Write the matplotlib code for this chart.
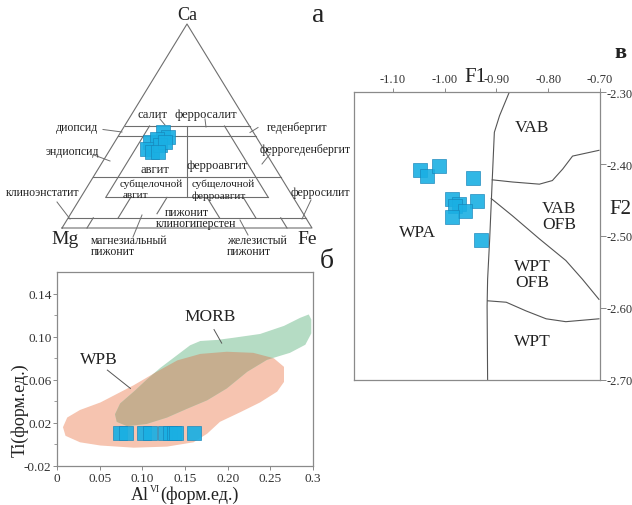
import matplotlib
matplotlib.use('Agg')
import matplotlib.pyplot as plt
import numpy as np
from matplotlib.patches import Polygon

W, H = 632, 506

plt.rcParams['font.family'] = ['Liberation Serif', 'DejaVu Serif']
plt.rcParams['axes.unicode_minus'] = False

# --- data ---

# (a) pyroxene compositions, mol %
px_wo = [47.1, 44.6, 42.2, 43.8, 38.9, 37.3, 40.5, 42.2, 37.2]
px_fs = [17.0, 20.2, 14.1, 16.0, 14.4, 17.2, 18.9, 20.1, 19.6]

# (в) F1 - F2 discriminant scores
f1 = [-1.047, -1.034, -1.010, -0.946, -0.986, -0.973, -0.980, -0.937, -0.960, -0.985, -0.929]
f2 = [-2.409, -2.416, -2.403, -2.420, -2.448, -2.456, -2.458, -2.451, -2.465, -2.474, -2.506]

# field boundaries of (в)
b_main_x = [-0.875, -0.894, -0.904, -0.908, -0.913, -0.917, -0.918, -0.917]
b_main_y = [-2.300, -2.333, -2.356, -2.421, -2.504, -2.560, -2.597, -2.700]
b_vab_x = [-0.908, -0.869, -0.817, -0.792, -0.772, -0.753, -0.702]
b_vab_y = [-2.422, -2.425, -2.428, -2.423, -2.407, -2.389, -2.381]
b_ofb_x = [-0.910, -0.869, -0.817, -0.766, -0.734, -0.702]
b_ofb_y = [-2.448, -2.472, -2.504, -2.534, -2.560, -2.588]
b_wpt_x = [-0.917, -0.881, -0.843, -0.804, -0.766, -0.702]
b_wpt_y = [-2.590, -2.592, -2.604, -2.615, -2.619, -2.615]

# (б) Al(VI) - Ti
al_vi = [0.074, 0.081, 0.102, 0.109, 0.127, 0.133, 0.137, 0.140, 0.161]
ti = [0.011, 0.011, 0.011, 0.011, 0.011, 0.011, 0.011, 0.011, 0.011]

wpb_al = [0.007, 0.012, 0.027, 0.051, 0.090, 0.117, 0.141, 0.168, 0.199, 0.230, 0.254,
          0.266, 0.266, 0.258, 0.238, 0.215, 0.191, 0.176, 0.160, 0.129, 0.090, 0.051,
          0.027, 0.010]
wpb_ti = [0.016, 0.025, 0.032, 0.039, 0.055, 0.0675, 0.078, 0.084, 0.086, 0.085, 0.080,
          0.072, 0.058, 0.049, 0.039, 0.030, 0.021, 0.010, 0.002, -0.002, -0.003, -0.001,
          0.002, 0.008]
morb_al = [0.068, 0.074, 0.090, 0.105, 0.121, 0.141, 0.156, 0.168, 0.188, 0.207, 0.238,
           0.266, 0.285, 0.295, 0.298, 0.298, 0.291, 0.273, 0.246, 0.223, 0.199, 0.176,
           0.152, 0.129, 0.105, 0.082, 0.070]
morb_ti = [0.028, 0.038, 0.049, 0.060, 0.071, 0.083, 0.092, 0.096, 0.097, 0.099, 0.1025,
           0.110, 0.1175, 0.1206, 0.116, 0.103, 0.0925, 0.085, 0.0785, 0.0675, 0.052, 0.041,
           0.033, 0.025, 0.019, 0.017, 0.021]

SQ_FACE = '#1AAFE3'
SQ_EDGE = '#1784B8'
LINE = '#6e6e6e'
TXT = '#222222'

fig = plt.figure(figsize=(W / 100, H / 100), dpi=100)


def px_axes(l, t, r, b):
    return fig.add_axes([l / W, 1 - b / H, (r - l) / W, (b - t) / H])


def ftext(x, y, s, size=8.5, ha='center', va='center', **kw):
    fig.text(x / W, 1 - y / H, s, fontsize=size, ha=ha, va=va, color=TXT, **kw)


# ================= (a) ternary =================
TL, TT, TR, TB = 62, 25, 312, 229
axt = px_axes(TL, TT, TR, TB)
axt.set_xlim(0, 1)
axt.set_ylim(0, 1)
axt.axis('off')


def tern(wo, fs):
    wo = np.asarray(wo, float) / 100
    fs = np.asarray(fs, float) / 100
    return fs + wo / 2, wo


def pxl(pts):
    # leader line given in figure pixels
    xs = [(p[0] - TL) / (TR - TL) for p in pts]
    ys = [(TB - p[1]) / (TB - TT) for p in pts]
    axt.plot(xs, ys, color=LINE, lw=0.7, clip_on=False)


def seg(y0, y1, x0, x1):
    axt.plot([x0, x1], [y0, y1], color=LINE, lw=0.8, clip_on=False)


def fe_line(f, y0, y1):
    seg(y0, y1, f + y0 / 2, f + y1 / 2)


def mg_line(m, y0, y1):
    seg(y0, y1, 1 - m - y0 / 2, 1 - m - y1 / 2)


axt.plot([0, 1, 0.5, 0], [0, 0, 1, 0], color=LINE, lw=0.8, clip_on=False)
for w in [0.5, 0.45, 0.25, 0.05]:
    seg(w, w, w / 2, 1 - w / 2)
seg(0.15, 0.15, 0.1 + 0.075, 0.9 - 0.075)
fe_line(0.1, 0.5, 0.15)
mg_line(0.1, 0.5, 0.15)
seg(0.5, 0.15, 0.5, 0.5)
fe_line(0.2, 0.15, 0.05)
mg_line(0.2, 0.15, 0.05)
fe_line(0.345, 0.15, 0.07)
mg_line(0.345, 0.15, 0.05)
fe_line(0.1, 0.05, 0.0)
mg_line(0.1, 0.05, 0.0)

tx, ty = tern(px_wo, px_fs)
axt.plot(tx, ty, 's', ms=9.5, mfc=SQ_FACE, mec=SQ_EDGE, mew=0.5, alpha=0.92,
         clip_on=False, zorder=5)

ftext(187, 15, 'Ca', size=13)
ftext(65, 240, 'Mg', size=14)
ftext(307, 240, 'Fe', size=14)
ftext(318, 16, 'а', size=20)

ftext(152, 115, 'салит', size=9)
ftext(206, 115, 'ферросалит', size=9)
ftext(77, 128, 'диопсид')
pxl([(103, 130.5), (122, 133)])
ftext(297, 128, 'геденбергит')
pxl([(258, 128.5), (250, 133.5)])
ftext(72, 152, 'эндиопсид')
pxl([(94, 156), (110, 162)])
ftext(305, 150, 'феррогеденбергит')
pxl([(270, 155), (262, 165)])
pxl([(160, 120), (165, 126)])
pxl([(205, 120), (206, 128)])
ftext(155, 170, 'авгит', size=9)
ftext(217, 166.5, 'ферроавгит', size=9)
ftext(120, 184, 'субщелочной', size=8, ha='left')
ftext(123, 196, 'авгит', size=8, ha='left')
ftext(223, 184, 'субщелочной', size=8)
ftext(219, 196, 'ферроавгит', size=8)
ftext(43, 193, 'клиноэнстатит')
pxl([(57, 203), (70, 220)])
ftext(320, 193, 'ферросилит')
pxl([(311, 201), (302, 220)])
ftext(187, 212.5, 'пижонит')
ftext(196, 223.5, 'клиногиперстен')
ftext(91, 240.5, 'магнезиальный', ha='left')
ftext(91, 252, 'пижонит', ha='left')
pxl([(133, 238), (142, 216)])
ftext(227, 241.5, 'железистый', ha='left')
ftext(227, 252, 'пижонит', ha='left')
pxl([(240, 221), (248, 236)])

# ================= (в) F1-F2 =================
axv = px_axes(354, 93, 600, 381)
axv.set_xlim(-1.175, -0.70)
axv.set_ylim(-2.70, -2.30)
for s in axv.spines.values():
    s.set_color('#8a8a8a')
    s.set_linewidth(0.9)
axv.xaxis.tick_top()
axv.yaxis.tick_right()
axv.set_xticks([-1.10, -1.00, -0.90, -0.80, -0.70])
axv.set_xticklabels(['-1.10', '-1.00', '-0.90', '-0.80', '-0.70'])
axv.set_yticks([-2.70, -2.60, -2.50, -2.40, -2.30])
axv.set_yticklabels(['-2.70', '-2.60', '-2.50', '-2.40', '-2.30'])
axv.tick_params(axis='x', direction='out', length=3, width=0.7, color='#8a8a8a',
                labelsize=9, labelcolor='#333333', pad=2)
axv.tick_params(axis='y', direction='out', length=4, width=0.7, color='#8a8a8a',
                labelsize=9, labelcolor='#333333', pad=1)
for bx, by in [(b_main_x, b_main_y), (b_vab_x, b_vab_y), (b_ofb_x, b_ofb_y), (b_wpt_x, b_wpt_y)]:
    axv.plot(bx, by, color='#555555', lw=0.8)
axv.plot(f1, f2, 's', ms=10, mfc=SQ_FACE, mec=SQ_EDGE, mew=0.5, alpha=0.9, zorder=5)
for s, x, y in [('VAB', -0.831, -2.349), ('VAB\nOFB', -0.779, -2.472),
                ('WPT\nOFB', -0.831, -2.553), ('WPT', -0.831, -2.646), ('WPA', -1.052, -2.495)]:
    axv.text(x, y, s, fontsize=12.5, ha='center', va='center', color=TXT, linespacing=1.0)
ftext(475, 77, 'F1', size=15)
ftext(620, 210, 'F2', size=15)
ftext(620, 53, 'в', size=16, fontweight='bold')

# ================= (б) AlVI - Ti =================
axb = px_axes(57, 273, 313, 467)
axb.set_xlim(0, 0.3)
axb.set_ylim(-0.02, 0.16)
for s in axb.spines.values():
    s.set_color('#8a8a8a')
    s.set_linewidth(0.9)
axb.add_patch(Polygon(np.column_stack([wpb_al, wpb_ti]), closed=True,
                      fc='#F6C4B0', ec='none', zorder=1))
axb.add_patch(Polygon(np.column_stack([morb_al, morb_ti]), closed=True,
                      fc='#B5DCC4', ec='none', zorder=1))
clip = Polygon(np.column_stack([wpb_al, wpb_ti]), closed=True, transform=axb.transData)
ov = Polygon(np.column_stack([morb_al, morb_ti]), closed=True, fc='#C6AE8F', ec='none', zorder=2)
axb.add_patch(ov)
ov.set_clip_path(clip)
axb.plot(al_vi, ti, 's', ms=10, mfc=SQ_FACE, mec=SQ_EDGE, mew=0.5, alpha=0.92, zorder=5)

axb.set_xticks([0, 0.05, 0.10, 0.15, 0.20, 0.25, 0.3])
axb.set_xticklabels(['0', '0.05', '0.10', '0.15', '0.20', '0.25', '0.3'])
axb.set_yticks([-0.02, 0.02, 0.06, 0.10, 0.14])
axb.set_yticklabels(['-0.02', '0.02', '0.06', '0.10', '0.14'])
axb.set_yticks([0.0, 0.04, 0.08, 0.12], minor=True)
axb.tick_params(axis='both', direction='out', length=3, width=0.7, color='#8a8a8a',
                labelsize=9.5, labelcolor='#333333', pad=1)
axb.tick_params(axis='y', which='minor', direction='out', length=2, width=0.6, color='#8a8a8a')

axb.text(0.180, 0.119, 'MORB', fontsize=12.5, ha='center', va='center', color=TXT)
axb.plot([0.184, 0.193], [0.1066, 0.094], color='#555555', lw=0.7)
axb.text(0.049, 0.079, 'WPB', fontsize=12.5, ha='center', va='center', color=TXT)
axb.plot([0.059, 0.086], [0.069, 0.052], color='#555555', lw=0.7)

ftext(20, 410, 'Ti(форм.ед.)', size=13, rotation=90)
ftext(149, 500, 'Al', size=13, ha='right', va='baseline')
ftext(149.5, 492, 'VI', size=7, ha='left', va='baseline')
ftext(160, 500, '(форм.ед.)', size=13, ha='left', va='baseline')
ftext(327, 262, 'б', size=20)

fig.savefig('out.png', dpi=100)
